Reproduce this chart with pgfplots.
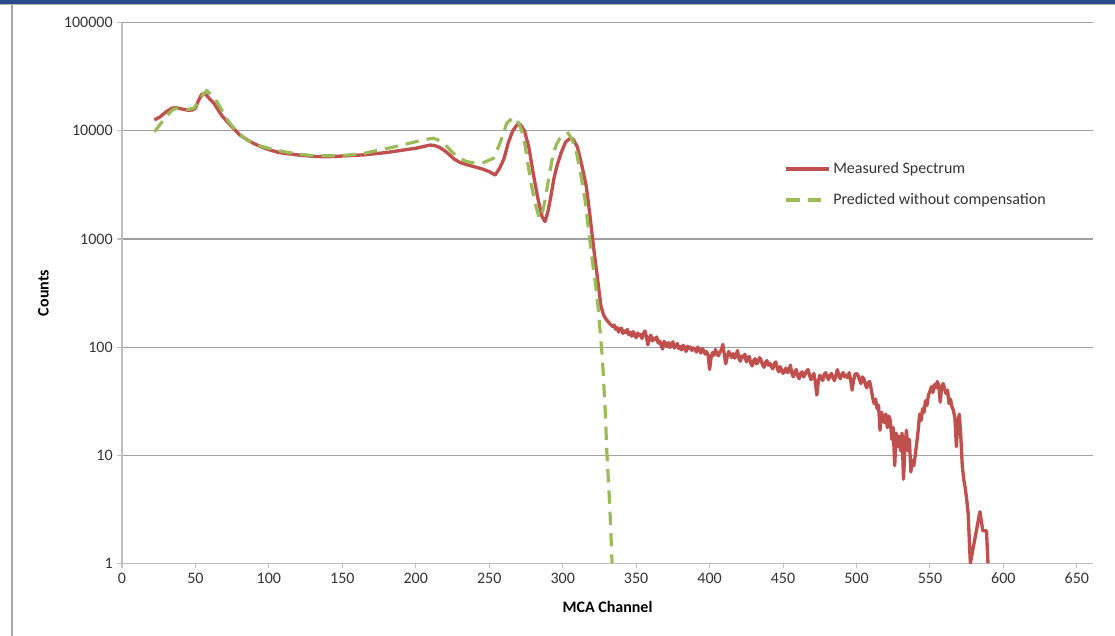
\documentclass[border=0pt]{standalone}
\usepackage{fontspec}
\setmainfont{Carlito}
\usepackage{pgfplots}
\pgfplotsset{compat=1.18}
\definecolor{msred}{HTML}{C0504D}
\definecolor{msgreen}{HTML}{9BBB59}
\definecolor{gridgray}{HTML}{A0A0A0}
\definecolor{axgray}{HTML}{BEBEBE}
\definecolor{txt}{HTML}{333333}
\definecolor{barblue}{HTML}{2B4C8C}
\begin{document}
\begin{tikzpicture}
\path[use as bounding box] (-91.5pt,-54.5pt) rectangle (744.75pt,422.5pt);
\fill[barblue] (-91.5pt,419pt) rectangle (744.75pt,422.5pt);
\draw[gray!60,line width=0.8pt] (-91.5pt,418.8pt) -- (744.75pt,418.8pt);
\draw[gray!70,line width=0.9pt] (-82.5pt,-54.5pt) -- (-82.5pt,418.8pt);
\begin{axis}[
  scale only axis,
  width=728.25pt, height=405.45pt,
  xmin=0, xmax=661,
  ymode=log, ymin=1, ymax=100000,
  xtick={0,50,...,650},
  ytick={1,10,100,1000,10000,100000},
  yticklabels={1,10,100,1000,10000,100000},
  yminorticks=false,
  axis x line*=bottom, axis y line*=left,
  axis line style={axgray, line width=0.8pt},
  ymajorgrids, grid style={gridgray, line width=0.8pt},
  tick align=outside,
  major tick length=3.5pt,
  tick style={axgray, line width=0.8pt},
  /pgf/number format/assume math mode=true,
  tick label style={font=\fontsize{12}{14}\selectfont, text=txt},
  xlabel={\textbf{MCA Channel}},
  ylabel={\textbf{Counts}},
  label style={font=\fontsize{12}{14}\selectfont, text=black},
  xlabel style={at={(axis description cs:0.5,0)}, anchor=center, yshift=-33pt},
  ylabel style={at={(axis description cs:0,0.5)}, anchor=center, rotate=0, yshift=59pt},
  legend style={at={(rel axis cs:0.678,0.752)}, anchor=north west, draw=none, fill=none,
    font=\fontsize{12}{14}\selectfont, text=txt, row sep=9.5pt,
    /tikz/every even column/.append style={column sep=3pt}},
  legend cell align=left,
  legend image code/.code={\draw[#1] (0pt,0pt) -- (32pt,0pt);},
]
\addplot[msred, line width=2.5pt, line join=round] coordinates {
(22,12600)(26,13500)(30,15000)(34,16200)(37,16400)(41,15900)(45,15500)(48,15600)(50,16200)
(52,19000)(54,21500)(56,22300)(58,21000)(60,19500)(62,18400)(65,16000)(68,13800)(72,12000)
(76,10500)(80,9200)(85,8300)(90,7600)(95,7100)(100,6700)(105,6400)(110,6200)(115,6100)
(120,5980)(125,5900)(130,5800)(135,5780)(140,5760)(145,5800)(150,5850)(155,5900)(160,5950)
(165,6000)(170,6100)(175,6200)(180,6300)(185,6450)(190,6600)(195,6750)(200,6900)(205,7150)
(210,7400)(213,7300)(216,7050)(220,6500)(223,6000)(226,5500)(230,5100)(235,4850)(240,4650)
(245,4450)(250,4200)(254,3900)(257,4500)(260,5500)(263,7800)(266,10000)(269,11400)(271,11500)
(274,10000)(277,7000)(280,4000)(283,2400)(286,1600)(288,1450)(290,1800)(292,2500)(294,3600)
(296,4700)(299,6300)(302,7900)(305,8500)(307,8400)(310,7100)(313,4800)(316,3100)(318,1900)
(320,1100)(322,650)(324,400)(326,240)(328,195)(330,178)(332,165)
(334,155)(335,160)(336,146)(337,152)(338,138)(339,147)(340,150)(341,134)(342,141)(343,136)
(344,146)(345,130)(346,137)(347,126)(348,139)(349,129)(350,122)(351,135)(352,128)(353,131)
(354,120)(355,134)(356,141)(357,125)(358,105)(359,122)(360,129)(361,114)(362,121)(363,117)
(364,124)(365,109)(366,114)(367,104)(368,96)(369,113)(370,108)(371,101)(372,110)(373,99)
(374,106)(375,112)(376,98)(377,103)(378,108)(379,97)(380,101)(381,94)(382,104)(383,99)
(384,91)(385,102)(386,97)(387,100)(388,93)(389,98)(390,96)(391,90)(392,100)(393,95)
(394,88)(395,97)(396,93)(397,86)(398,91)(399,84)(400,62)(401,80)(402,89)(403,84)
(404,95)(405,87)(406,83)(407,90)(408,94)(409,106)(410,85)(411,70)(412,82)(413,91)
(414,86)(415,80)(416,87)(417,79)(418,84)(419,93)(420,78)(421,74)(422,83)(423,80)
(424,86)(425,73)(426,79)(427,82)(428,71)(429,67)(430,75)(431,78)(432,70)(433,73)
(434,80)(435,76)(436,69)(437,65)(438,72)(439,75)(440,68)(441,71)(442,66)(443,63)
(444,70)(445,73)(446,64)(447,59)(448,66)(449,62)(450,57)(451,60)(452,64)(453,58)
(454,61)(455,68)(456,57)(457,53)(458,59)(459,62)(460,54)(461,51)(462,57)(463,59)
(464,53)(465,56)(466,60)(467,62)(468,55)(469,50)(470,54)(471,57)(472,47)(473,36)
(474,48)(475,55)(476,52)(477,49)(478,56)(479,58)(480,53)(481,50)(482,55)(483,57)
(484,52)(485,49)(486,55)(487,62)(488,54)(489,51)(490,56)(491,58)(492,53)(493,55)
(494,52)(495,58)(496,50)(497,40)(498,49)(499,56)(500,57)(501,55)(502,50)(503,46)
(504,53)(505,51)(506,45)(507,42)(508,47)(509,48)(510,41)
(511,34)(512,30)(513,33)(514,27)(515,29)(516,17)(517,25)(518,23)(519,20)(520,24)
(521,18)(522,23)(523,21)(524,14)(525,18)(526,8)(527,16)(528,12)(529,15)(530,11)
(531,16)(532,6)(533,12)(534,17)(535,11)(536,14)(537,7)(538,9)(539,8)(540,10)
(541,13)(542,17)(543,24)(544,21)(545,27)(546,25)(547,32)(548,29)(549,36)(550,39)
(551,43)(552,38)(553,45)(554,42)(555,48)(556,44)(557,31)(558,43)(559,46)(560,41)
(561,37)(562,40)(563,30)(564,33)(565,28)(566,26)(567,22)(568,12)(569,20)(570,24)
(571,15)(572,8)(573,6)(574,5)(575,3.9)(576,2.9)(577.5,1)(584,3)(586,2)(588.5,2)(589.5,1)
};
\addlegendentry{Measured Spectrum}
\addplot[msgreen, line width=2.4pt, dash pattern=on 10pt off 6pt] coordinates {
(22,9800)(26,11500)(30,13500)(34,15500)(37,16200)(41,16000)(45,15800)(49,16200)(52,18500)
(55,21500)(57.7,23500)(60,22000)(64,19300)(68,15500)(72,12500)(78,9840)(85,8200)(94,7250)
(100,6900)(110,6420)(120,6100)(132,5860)(145,5900)(155,5980)(165,6200)(173,6560)(181,6900)
(189,7300)(200,7940)(206,8300)(212,8540)(216.5,8110)(221,7200)(225.5,6210)(230,5600)
(234.6,5190)(240,5050)(246,5080)(252.8,5570)(257.3,7680)(261.9,11750)(266.4,13360)(269,12600)
(272,10190)(274.3,7500)(276.6,4670)(279,3000)(281.2,2140)(284.1,1550)(286,1700)(288,2300)
(291,4000)(293.6,6210)(296,7600)(298.2,8540)(301,9300)(303.8,9500)(306.5,8300)(309.5,6210)
(312,4200)(315.2,2300)(317.5,1250)(319.7,700)(322,420)(324,240)(325.4,144)(327,80)
(329,25)(330,11)(332,3.5)(333.6,1)
};
\addlegendentry{Predicted without compensation}
\end{axis}
\end{tikzpicture}
\end{document}
